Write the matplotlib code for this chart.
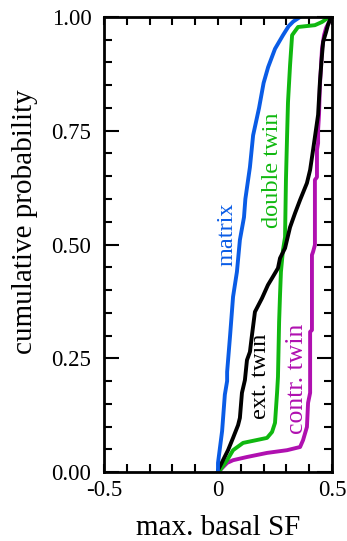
import numpy as np
from matplotlib import pyplot as plt
from matplotlib.ticker import MultipleLocator, FixedLocator, FormatStrFormatter

plt.rcParams['font.family'] = ['Liberation Serif', 'DejaVu Serif']

# cumulative distributions (x = max. basal SF, y = cumulative probability)
matrix_x = [0.0, 0.0, 0.018, 0.03, 0.04, 0.04, 0.053, 0.066, 0.083, 0.096, 0.114, 0.12,
            0.14, 0.154, 0.18, 0.20, 0.22, 0.25, 0.285, 0.31, 0.33, 0.36]
matrix_y = [0.0, 0.02, 0.09, 0.17, 0.20, 0.22, 0.30, 0.385, 0.44, 0.51, 0.56, 0.60,
            0.67, 0.74, 0.80, 0.855, 0.89, 0.93, 0.96, 0.98, 0.99, 1.0]

double_x = [0.0, 0.009, 0.04, 0.066, 0.11, 0.215, 0.237, 0.25, 0.259, 0.263, 0.268, 0.272,
            0.276, 0.285, 0.294, 0.298, 0.303, 0.307, 0.316, 0.325, 0.351, 0.425, 0.456,
            0.482, 0.5]
double_y = [0.0, 0.004, 0.026, 0.048, 0.064, 0.075, 0.088, 0.108, 0.174, 0.209, 0.33, 0.389,
            0.44, 0.488, 0.516, 0.642, 0.74, 0.813, 0.894, 0.96, 0.978, 0.982, 0.989,
            0.998, 1.0]

ext_x = [0.0, 0.0, 0.022, 0.044, 0.066, 0.088, 0.096, 0.105, 0.118, 0.127, 0.14, 0.149,
         0.162, 0.193, 0.219, 0.237, 0.263, 0.272, 0.294, 0.316, 0.338, 0.36, 0.39, 0.404,
         0.417, 0.425, 0.439, 0.447, 0.456, 0.461, 0.474, 0.482, 0.496]
ext_y = [0.0, 0.004, 0.026, 0.048, 0.075, 0.103, 0.119, 0.174, 0.202, 0.246, 0.264, 0.301,
         0.352, 0.382, 0.411, 0.426, 0.448, 0.47, 0.492, 0.538, 0.569, 0.598, 0.635, 0.664,
         0.708, 0.736, 0.785, 0.857, 0.916, 0.945, 0.967, 0.982, 1.0]

contr_x = [0.0, 0.009, 0.04, 0.066, 0.127, 0.215, 0.303, 0.36, 0.373, 0.39, 0.395, 0.404,
           0.404, 0.412, 0.412, 0.417, 0.425, 0.425, 0.434, 0.434, 0.439, 0.439, 0.443,
           0.447, 0.452, 0.456, 0.465, 0.474, 0.487, 0.5]
contr_y = [0.0, 0.004, 0.02, 0.026, 0.033, 0.042, 0.048, 0.055, 0.07, 0.099, 0.152, 0.174,
           0.308, 0.312, 0.477, 0.484, 0.499, 0.642, 0.648, 0.708, 0.723, 0.752, 0.785,
           0.85, 0.894, 0.93, 0.96, 0.976, 0.989, 1.0]

fig = plt.figure(figsize=(3.47, 5.41), dpi=100)
ax = fig.add_axes([0.2997, 0.1275, 0.6571, 0.8411])

lw = 2.8
ax.plot(contr_x, contr_y, color='#b010b0', lw=lw)
ax.plot(double_x, double_y, color='#10b810', lw=lw)
ax.plot(ext_x, ext_y, color='black', lw=lw)
ax.plot(matrix_x, matrix_y, color='#0a5ce6', lw=lw)

ax.text(0.04, 0.523, 'matrix', color='#0a5ce6', rotation=90, fontsize=17.5,
        ha='center', va='center')
ax.text(0.241, 0.664, 'double twin', color='#10b810', rotation=90, fontsize=17.5,
        ha='center', va='center')
ax.text(0.185, 0.21, 'ext. twin', color='black', rotation=90, fontsize=17.5,
        ha='center', va='center')
ax.text(0.346, 0.204, 'contr. twin', color='#b010b0', rotation=90, fontsize=18.5,
        ha='center', va='center')

ax.set_xlim(-0.5, 0.5)
ax.set_ylim(0, 1)
ax.xaxis.set_major_locator(FixedLocator([-0.5, 0, 0.5]))
ax.xaxis.set_major_formatter(FormatStrFormatter('%g'))
ax.xaxis.set_minor_locator(MultipleLocator(0.1))
ax.yaxis.set_major_locator(MultipleLocator(0.25))
ax.yaxis.set_minor_locator(MultipleLocator(0.05))
ax.yaxis.set_major_formatter(FormatStrFormatter('%.2f'))

ax.tick_params(which='both', direction='in', top=True, right=True, width=1.5,
               labelsize=16.5, color='black')
ax.tick_params(axis='y', which='major', length=11, pad=9)
ax.tick_params(axis='y', which='minor', length=5.5)
ax.tick_params(axis='x', which='both', length=6, pad=6)
for s in ax.spines.values():
    s.set_linewidth(2)

ax.set_xlabel('max. basal SF', fontsize=21)
ax.set_ylabel('cumulative probability', fontsize=21)
ax.xaxis.set_label_coords(0.5, -0.095)
ax.yaxis.set_label_coords(-0.29, 0.55)

plt.savefig('out.png', dpi=100)
